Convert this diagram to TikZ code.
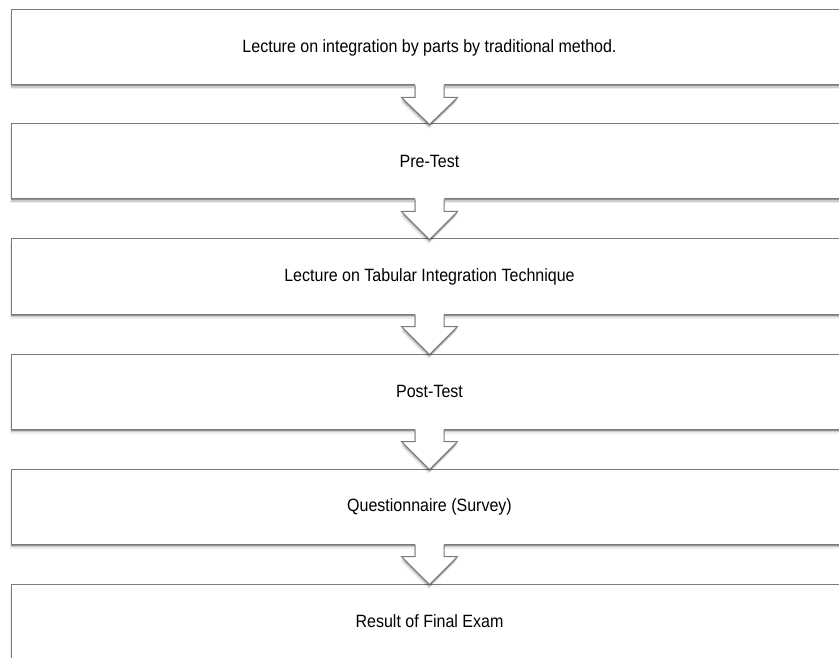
\documentclass[tikz,border=0pt]{standalone}
\usepackage{fontspec}
\setmainfont{Liberation Sans}[FakeStretch=0.9]
\usetikzlibrary{shadows,calc}
\definecolor{edgegray}{HTML}{7A7A7A}
\tikzset{
  softshadow/.style={
    drop shadow={shadow xshift=0pt, shadow yshift=-1.5pt, opacity=.28, fill=black},
    drop shadow={shadow xshift=-0.5pt, shadow yshift=-3pt, opacity=.14, fill=black},
    drop shadow={shadow xshift=-0.8pt, shadow yshift=-4.5pt, opacity=.07, fill=black}},
  stagebox/.style={draw=edgegray, line width=1pt, fill=white,
    minimum width=837pt, minimum height=75pt, inner sep=0pt,
    font=\fontsize{17.8}{20}\selectfont, softshadow},
  arrowfill/.style={fill=white, softshadow},
  arrowline/.style={draw=edgegray, line width=1pt, line join=miter}
}
\begin{document}
\begin{tikzpicture}[x=1pt,y=-1pt]
\useasboundingbox (0,0) rectangle (839,658);
\node[stagebox] (b1) at (429.5,47.5) {Lecture on integration by parts by traditional method.};
\node[stagebox] (b2) at (429.5,161.5) {Pre-Test};
\node[stagebox] (b3) at (429.5,276.5) {Lecture on Tabular Integration Technique};
\node[stagebox] (b4) at (429.5,391.5) {Post-Test};
\node[stagebox] (b5) at (429.5,506.5) {Questionnaire (Survey)};
\node[stagebox] (b6) at (429.5,621.5) {Result of Final Exam};
\foreach \a/\b in {b1/b2,b2/b3,b3/b4,b4/b5,b5/b6}{
  \coordinate (s) at (\a.south);
  \coordinate (t) at ($(\b.north)+(0,1)$);
  \fill[arrowfill] ($(s)+(-14.5,-1.5)$) -- ($(s)+(-14.5,12)$) -- ($(s)+(-28,12)$)
     -- (t) -- ($(s)+(28,12)$) -- ($(s)+(14.5,12)$) -- ($(s)+(14.5,-1.5)$) -- cycle;
  \draw[arrowline] ($(s)+(-14.5,0)$) -- ($(s)+(-14.5,12)$) -- ($(s)+(-28,12)$)
     -- (t) -- ($(s)+(28,12)$) -- ($(s)+(14.5,12)$) -- ($(s)+(14.5,0)$);
}
\end{tikzpicture}
\end{document}
